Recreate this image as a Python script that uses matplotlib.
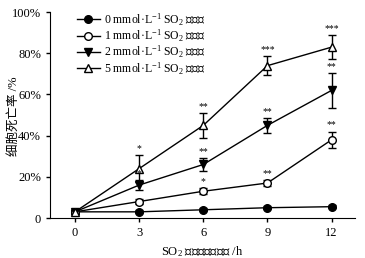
import matplotlib
matplotlib.use('Agg')
import matplotlib.pyplot as plt

plt.rcParams['font.family'] = ['Liberation Serif', 'Noto Sans CJK SC']
plt.rcParams['mathtext.fontset'] = 'custom'
plt.rcParams['mathtext.rm'] = 'Liberation Serif'
plt.rcParams['mathtext.it'] = 'Liberation Serif:italic'
plt.rcParams['font.size'] = 9

# 处理时间 /h
hours = [0, 3, 6, 9, 12]
# 细胞死亡率 (%)
conc0 = [3, 3, 4, 5, 5.5]
conc1 = [3, 8, 13, 17, 38]
conc2 = [3, 16, 26, 45, 62]
conc5 = [3, 24, 45, 74, 83]
err0 = [0.8, 0.8, 0.8, 0.8, 0.8]
err1 = [1, 1, 1.5, 1.5, 4]
err2 = [1, 2.5, 3, 3.5, 8.5]
err5 = [1, 6.5, 6, 4.5, 6]
stars1 = ['', '', '*', '**', '**']
stars2 = ['', '*', '**', '**', '**']
stars5 = ['', '*', '**', '***', '***']
labels = ['0 mmol·L$^{-1}$ SO$_2$ 衍生物', '1 mmol·L$^{-1}$ SO$_2$ 衍生物',
          '2 mmol·L$^{-1}$ SO$_2$ 衍生物', '5 mmol·L$^{-1}$ SO$_2$ 衍生物']

fig = plt.figure(figsize=(3.65, 2.58), dpi=100)
ax = fig.add_axes([0.137, 0.155, 0.836, 0.798])

series = [(conc0, err0, 'o', 'black'), (conc1, err1, 'o', 'white'),
          (conc2, err2, 'v', 'black'), (conc5, err5, '^', 'white')]
handles = []
for (y, e, m, fc), lab in zip(series, labels):
    c = ax.errorbar(hours, y, yerr=e, marker=m, markerfacecolor=fc, markeredgecolor='black',
                    color='black', ms=5.5, lw=1, capsize=3, elinewidth=1, capthick=1,
                    markeredgewidth=1, label=lab)
    handles.append(c[0])

# 显著性标记
for y, e, st in [(conc1, err1, stars1), (conc2, err2, stars2), (conc5, err5, stars5)]:
    for x, v, ee, s in zip(hours, y, e, st):
        if s:
            ax.text(x, v + ee + 1, s, ha='center', va='bottom', fontsize=7)

ax.set_xlim(-1.17, 13.1)
ax.set_ylim(0, 100)
ax.set_xticks(hours)
ax.set_yticks([0, 20, 40, 60, 80, 100])
ax.set_yticklabels(['0', '20%', '40%', '60%', '80%', '100%'])
ax.spines['top'].set_visible(False)
ax.spines['right'].set_visible(False)
ax.tick_params(direction='out', length=3, width=1)
ax.set_xlabel('SO$_2$ 衍生物处理时间 /h')
fig.text(14 / 365, 0.55, '细胞死亡率 /%', rotation=90, ha='center', va='center')
ax.legend(handles, labels, loc='upper left', bbox_to_anchor=(0.06, 1.045), frameon=False,
          fontsize=8.5, handlelength=2.0, handletextpad=0.3, labelspacing=0.0, borderpad=0.2)

plt.savefig('out.png', dpi=100)
